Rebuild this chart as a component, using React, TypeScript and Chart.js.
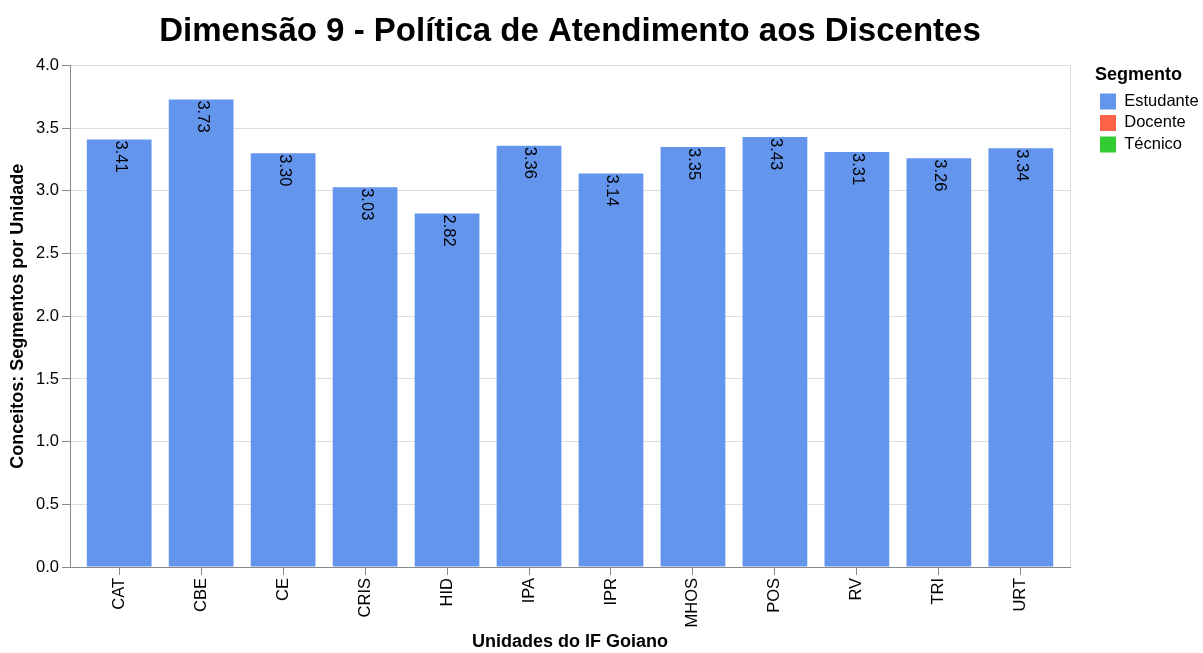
import React, { useEffect, useRef } from 'react';
import { Chart, registerables } from 'chart.js';

Chart.register(...registerables);

// ---- data ----
const units = ['CAT', 'CBE', 'CE', 'CRIS', 'HID', 'IPA', 'IPR', 'MHOS', 'POS', 'RV', 'TRI', 'URT'];
const estudante = [3.41, 3.73, 3.30, 3.03, 2.82, 3.36, 3.14, 3.35, 3.43, 3.31, 3.26, 3.34];
const docente: number[] = [];
const tecnico: number[] = [];
const segments = ['Estudante', 'Docente', 'Técnico'];
const segmentColors = ['#6495ED', '#FF6347', '#32CD32'];
const yTicks = [0, 0.5, 1.0, 1.5, 2.0, 2.5, 3.0, 3.5, 4.0];

const titleText = 'Dimensão 9 - Política de Atendimento aos Discentes';
const xTitle = 'Unidades do IF Goiano';
const yTitle = 'Conceitos: Segmentos por Unidade';
const legendTitle = 'Segmento';

const FONT = "'Liberation Sans', Arial, Helvetica, sans-serif";
const LEGEND_W = 133;
const LEGEND_SHIFT = 25;

const legendPatch = {
  id: 'legendPatch',
  beforeLayout(chart: any) {
    const lg = chart.legend;
    if (!lg || lg.__patched) return;
    lg.__patched = true;
    const fit0 = lg.fit;
    lg.fit = function () {
      fit0.call(this);
      this.width = LEGEND_W;
    };
    const draw0 = lg.draw;
    lg.draw = function (...args: any[]) {
      const ctx = this.ctx;
      ctx.save();
      ctx.translate(LEGEND_SHIFT, 0);
      draw0.apply(this, args);
      ctx.restore();
    };
  },
};

const plotBorder = {
  id: 'plotBorder',
  beforeDatasetsDraw(chart: any) {
    const { ctx, chartArea } = chart;
    ctx.save();
    ctx.strokeStyle = '#dddddd';
    ctx.lineWidth = 1;
    ctx.beginPath();
    ctx.moveTo(Math.round(chartArea.right) + 0.5, chartArea.top);
    ctx.lineTo(Math.round(chartArea.right) + 0.5, chartArea.bottom);
    ctx.stroke();
    ctx.restore();
  },
};

const barLabels = {
  id: 'barLabels',
  afterDatasetsDraw(chart: any) {
    const { ctx } = chart;
    const meta = chart.getDatasetMeta(0);
    ctx.save();
    ctx.fillStyle = '#000';
    ctx.font = `16.5px ${FONT}`;
    ctx.textAlign = 'left';
    ctx.textBaseline = 'middle';
    meta.data.forEach((el: any, i: number) => {
      ctx.save();
      ctx.translate(el.x + 1, el.y + 1);
      ctx.rotate(Math.PI / 2);
      ctx.fillText(estudante[i].toFixed(2), 0, 0);
      ctx.restore();
    });
    ctx.restore();
  },
};

export default function App() {
  const ref = useRef<HTMLCanvasElement | null>(null);

  useEffect(() => {
    document.body.style.margin = '0';
    const canvas = ref.current;
    if (!canvas) return;

    const seriesData = [estudante, docente, tecnico];

    const chart = new Chart(canvas, {
      type: 'bar',
      data: {
        datasets: segments.map((name, s) => ({
          label: name,
          data: seriesData[s].map((v, i) => ({ x: i, y: v })),
          backgroundColor: segmentColors[s],
          borderColor: segmentColors[s],
          borderWidth: 0,
          grouped: false,
          barPercentage: 0.79,
          categoryPercentage: 1,
        })) as any,
      },
      options: {
        responsive: false,
        animation: false,
        devicePixelRatio: 1,
        layout: { padding: 0 },
        plugins: {
          title: {
            display: true,
            text: titleText,
            fullSize: false,
            color: '#000',
            font: { family: FONT, size: 33, weight: 'bold' },
            padding: { top: 12, bottom: 14 },
          },
          legend: {
            display: true,
            position: 'right',
            align: 'start',
            fullSize: false,
            title: {
              display: true,
              text: legendTitle,
              position: 'start',
              color: '#000',
              font: { family: FONT, size: 18, weight: 'bold' },
              padding: { top: 0, bottom: 1 },
            },
            labels: {
              color: '#000',
              font: { family: FONT, size: 16.5 },
              boxWidth: 16,
              boxHeight: 16,
              padding: 5,
            },
          },
          tooltip: { enabled: false },
        },
        scales: {
          x: {
            type: 'linear',
            offset: false,
            min: -0.6,
            max: 11.6,
            afterBuildTicks: (scale: any) => {
              scale.ticks = units.map((_, i) => ({ value: i }));
            },
            afterFit: (scale: any) => {
              scale.height = 86;
            },
            ticks: {
              autoSkip: false,
              minRotation: 90,
              maxRotation: 90,
              padding: 3,
              color: '#000',
              font: { family: FONT, size: 16.5 },
              callback: (v: any) => units[v] ?? '',
            },
            grid: {
              offset: false,
              drawOnChartArea: false,
              drawTicks: true,
              tickLength: 8,
              tickColor: '#888',
            },
            border: { display: true, color: '#888', width: 1 },
            title: {
              display: true,
              text: xTitle,
              color: '#000',
              font: { family: FONT, size: 18, weight: 'bold' },
              padding: { top: 0, bottom: 0 },
            },
          },
          y: {
            min: 0,
            max: 4,
            afterBuildTicks: (scale: any) => {
              scale.ticks = yTicks.map((v) => ({ value: v }));
            },
            afterFit: (scale: any) => {
              scale.width = 70;
            },
            ticks: {
              padding: 3,
              color: '#000',
              font: { family: FONT, size: 16.5 },
              callback: (v: any) => Number(v).toFixed(1),
            },
            grid: {
              color: '#dddddd',
              tickColor: '#888',
              tickLength: 8,
            },
            border: { display: true, color: '#888', width: 1 },
            title: {
              display: true,
              text: yTitle,
              color: '#000',
              font: { family: FONT, size: 18, weight: 'bold' },
              padding: { top: 7, bottom: 0 },
            },
          },
        },
      } as any,
      plugins: [legendPatch, plotBorder, barLabels],
    });

    return () => chart.destroy();
  }, []);

  return (
    <div style={{ width: 1203, height: 653 }}>
      <canvas ref={ref} width={1203} height={653} style={{ width: '1203px', height: '653px', display: 'block' }} />
    </div>
  );
}
